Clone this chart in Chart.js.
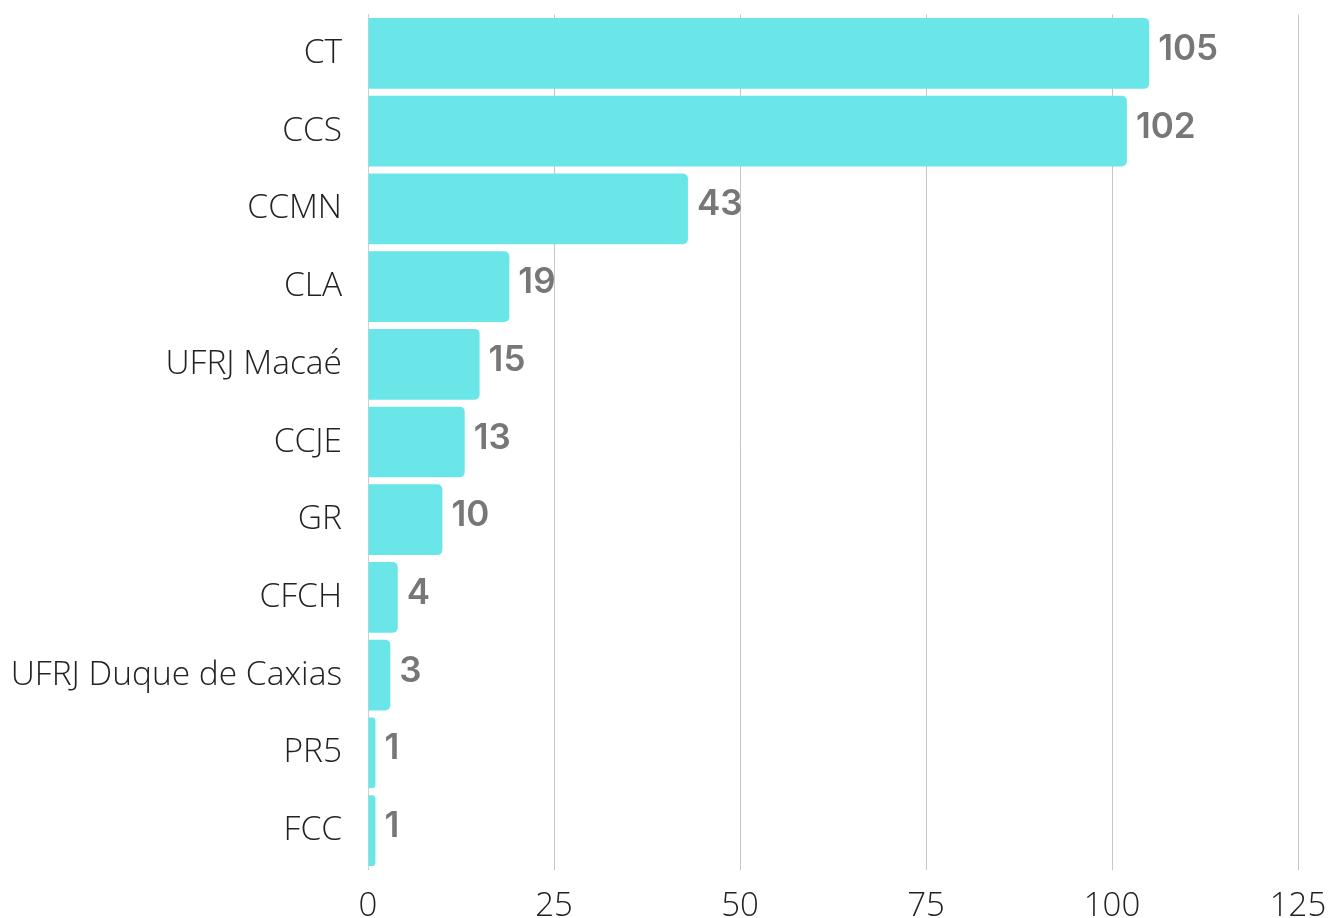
<!DOCTYPE html>
<html>
<head>
<meta charset="utf-8">
<script src="https://cdn.jsdelivr.net/npm/chart.js@4"></script>
<style>
  html, body { margin: 0; padding: 0; background: #fff; }
  #wrap { width: 1330px; height: 918px; position: relative; }
</style>
</head>
<body>
<div id="wrap"><canvas id="chart"></canvas></div>
<script>
// dados
const categories = ['CT', 'CCS', 'CCMN', 'CLA', 'UFRJ Macaé', 'CCJE', 'GR', 'CFCH', 'UFRJ Duque de Caxias', 'PR5', 'FCC'];
const values = [105, 102, 43, 19, 15, 13, 10, 4, 3, 1, 1];
const xTicks = [0, 25, 50, 75, 100, 125];

// desenha o valor na ponta de cada barra
const valueLabels = {
    id: 'valueLabels',
    afterDatasetsDraw(chart) {
        const ctx = chart.ctx;
        const meta = chart.getDatasetMeta(0);
        ctx.save();
        ctx.font = '600 35px Inter, Lato, sans-serif';
        ctx.fillStyle = '#777777';
        ctx.textAlign = 'left';
        ctx.textBaseline = 'middle';
        meta.data.forEach((bar, i) => {
            ctx.fillText(values[i], bar.x + 9, bar.y - 4);
        });
        ctx.restore();
    }
};

const ctx = document.getElementById('chart');

new Chart(ctx, {
    type: 'bar',
    data: {
        labels: categories,
        datasets: [{
            data: values,
            backgroundColor: '#6ae6e8',
            borderRadius: { topRight: 5, bottomRight: 5 },
            borderSkipped: 'start',
            barPercentage: 0.91,
            categoryPercentage: 1
        }]
    },
    options: {
        indexAxis: 'y',
        responsive: true,
        maintainAspectRatio: false,
        animation: false,
        layout: { padding: { top: 14.5, left: 12, right: 32, bottom: 0 } },
        plugins: {
            legend: { display: false },
            tooltip: { enabled: false }
        },
        scales: {
            x: {
                min: 0,
                max: 125,
                afterBuildTicks: (scale) => { scale.ticks = xTicks.map(v => ({ value: v })); },
                afterFit: (scale) => {
                    scale.height = 48.5;
                    scale.paddingLeft = 0;
                    scale.paddingRight = 0;
                },
                grid: { color: '#c6c6c6', lineWidth: 1, drawTicks: false },
                border: { display: false },
                ticks: {
                    padding: 17.5,
                    color: '#222222',
                    font: { family: '"Open Sans", sans-serif', size: 33, weight: 300 }
                }
            },
            y: {
                afterFit: (scale) => {
                    scale.width = 356;
                    scale.paddingTop = 0;
                    scale.paddingBottom = 0;
                },
                grid: { display: false, drawTicks: false },
                border: { display: true, color: '#d0d0d0', width: 1 },
                ticks: {
                    padding: 26,
                    color: '#222222',
                    font: { family: '"Open Sans", sans-serif', size: 33.5, weight: 300 }
                }
            }
        }
    },
    plugins: [valueLabels]
});
</script>
</body>
</html>
